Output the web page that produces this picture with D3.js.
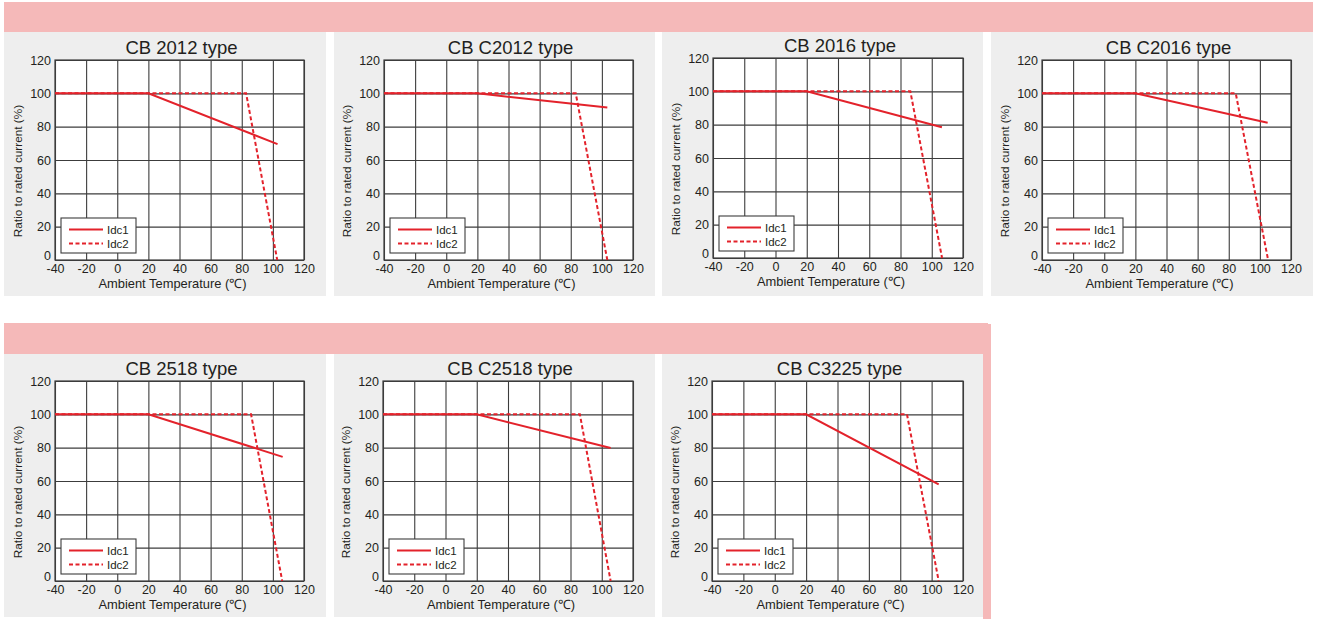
<!DOCTYPE html>
<html>
<head>
<meta charset="utf-8">
<script src="https://cdn.jsdelivr.net/npm/d3@7/dist/d3.min.js"></script>
<style>
  html, body { margin: 0; padding: 0; background: #ffffff; }
  svg { display: block; }
  text { font-family: "Liberation Sans", Arial, Helvetica, sans-serif; }
</style>
</head>
<body>
<svg id="chart" width="1319" height="619"></svg>
<script>
// ---------------- data ----------------
const titles = ["CB 2012 type", "CB C2012 type", "CB 2016 type", "CB C2016 type",
                "CB 2518 type", "CB C2518 type", "CB C3225 type"];
// Idc1 (solid) derating curves: [temperature, ratio %]
const idc1 = [
  [[-40, 100], [20, 100], [103, 69.5]],
  [[-40, 100], [20, 100], [103.5, 91.5]],
  [[-40, 100], [20, 100], [106.5, 78.5]],
  [[-40, 100], [20, 100], [105, 82.3]],
  [[-40, 100], [20, 100], [106.3, 74.5]],
  [[-40, 100], [20, 100], [105.7, 79.8]],
  [[-40, 100], [20, 100], [104.5, 58]]
];
// Idc2 (dashed) derating curves
const idc2 = [
  [[-40, 100], [82.8, 100], [102.8, 0]],
  [[-40, 100], [83.2, 100], [103.5, 0]],
  [[-40, 100], [86.3, 100], [106.6, 0]],
  [[-40, 100], [84.5, 100], [105.3, 0]],
  [[-40, 100], [86, 100], [106, 0]],
  [[-40, 100], [86, 100], [105.7, 0]],
  [[-40, 100], [84.3, 100], [104.5, 0]]
];
const seriesNames = ["Idc1", "Idc2"];
const xTicks = [-40, -20, 0, 20, 40, 60, 80, 100, 120];
const yTicks = [0, 20, 40, 60, 80, 100, 120];
const xLabel = "Ambient Temperature (\u2103)";
const yLabel = "Ratio to rated current (%)";

// ---------------- layout ----------------
const plotRects = [
  {x: 55,   y: 60,  w: 249, h: 200},
  {x: 384,  y: 60,  w: 249, h: 200},
  {x: 713,  y: 58,  w: 250, h: 200},
  {x: 1042, y: 60,  w: 249, h: 200},
  {x: 55,   y: 381, w: 249, h: 200},
  {x: 383,  y: 381, w: 250, h: 200},
  {x: 712,  y: 381, w: 251, h: 200}
];
const panelRects = [
  {x: 4,   y: 32,  w: 322, h: 264},
  {x: 334, y: 32,  w: 321, h: 264},
  {x: 662, y: 32,  w: 321, h: 264},
  {x: 991, y: 32,  w: 322, h: 264},
  {x: 4,   y: 354, w: 322, h: 263},
  {x: 334, y: 354, w: 321, h: 263},
  {x: 662, y: 354, w: 321, h: 263}
];

const RED = "#e3222b";
const GRID = "#3c3c3c";
const TXT = "#231f20";
const PINK = "#f5b9b9";
const GRAY = "#eeeeee";
const FONT = "'Liberation Sans', Arial, sans-serif";

const svg = d3.select("#chart");

// header bands
svg.append("rect").attr("x", 4).attr("y", 2).attr("width", 1309).attr("height", 30).attr("fill", PINK);
svg.append("rect").attr("x", 4).attr("y", 323).attr("width", 984).attr("height", 31).attr("fill", PINK);
svg.append("rect").attr("x", 983).attr("y", 324).attr("width", 8).attr("height", 295).attr("fill", PINK);

titles.forEach((title, i) => {
  const pr = panelRects[i];
  const r = plotRects[i];
  svg.append("rect").attr("x", pr.x).attr("y", pr.y).attr("width", pr.w).attr("height", pr.h).attr("fill", GRAY);

  const x = d3.scaleLinear().domain([-40, 120]).range([r.x, r.x + r.w]);
  const y = d3.scaleLinear().domain([0, 120]).range([r.y + r.h, r.y]);

  const g = svg.append("g");
  g.append("rect").attr("x", r.x).attr("y", r.y).attr("width", r.w).attr("height", r.h).attr("fill", "#ffffff");

  // grid via axes
  const gx = g.append("g").attr("transform", `translate(0,${r.y + r.h})`)
    .call(d3.axisBottom(x).tickValues(xTicks).tickSize(-r.h).tickFormat(""));
  const gy = g.append("g").attr("transform", `translate(${r.x},0)`)
    .call(d3.axisLeft(y).tickValues(yTicks).tickSize(-r.w).tickFormat(""));
  [gx, gy].forEach(a => {
    a.select(".domain").remove();
    a.selectAll("line").attr("stroke", GRID).attr("stroke-width", 1.1);
  });
  g.append("rect").attr("x", r.x).attr("y", r.y).attr("width", r.w).attr("height", r.h)
    .attr("fill", "none").attr("stroke", GRID).attr("stroke-width", 1.2);

  // tick labels (plain hyphen minus like the reference)
  const fmt = d => String(d);
  const lx = g.append("g").attr("transform", `translate(0,${r.y + r.h})`)
    .call(d3.axisBottom(x).tickValues(xTicks).tickSize(0).tickPadding(4).tickFormat(fmt));
  lx.select(".domain").remove();
  lx.selectAll("text").attr("font-size", 12.5).attr("fill", TXT).attr("font-family", FONT);
  const ly = g.append("g").attr("transform", `translate(${r.x},0)`)
    .call(d3.axisLeft(y).tickValues(yTicks).tickSize(0).tickPadding(4).tickFormat(fmt));
  ly.select(".domain").remove();
  ly.selectAll("text").attr("font-size", 12.5).attr("fill", TXT).attr("font-family", FONT)
    .attr("dy", d => d === 0 ? "-0.02em" : "0.32em");

  // title
  g.append("text").attr("x", r.x + r.w / 2 + 2).attr("y", r.y - 6)
    .attr("text-anchor", "middle").attr("font-size", 18.5).attr("fill", TXT).text(title);
  // axis labels
  g.append("text").attr("x", r.x + r.w / 2 - 7).attr("y", r.y + r.h + 28)
    .attr("text-anchor", "middle").attr("font-size", 12.9).attr("fill", TXT).text(xLabel);
  g.append("text")
    .attr("transform", `translate(${r.x - 33.5},${r.y + r.h / 2 + 11}) rotate(-90)`)
    .attr("text-anchor", "middle").attr("font-size", 11.8).attr("fill", TXT).text(yLabel);

  // curves
  const line = d3.line().x(d => x(d[0])).y(d => y(d[1]));
  g.append("path").datum(idc2[i]).attr("d", line).attr("fill", "none")
    .attr("stroke", RED).attr("stroke-width", 2).attr("stroke-dasharray", "4,2.5");
  g.append("path").datum(idc1[i]).attr("d", line).attr("fill", "none")
    .attr("stroke", RED).attr("stroke-width", 2);

  // legend
  const lgX = r.x + 6, lgY = r.y + r.h - 42;
  const lg = g.append("g");
  lg.append("rect").attr("x", lgX).attr("y", lgY).attr("width", 75).attr("height", 35)
    .attr("fill", "#ffffff").attr("stroke", GRID).attr("stroke-width", 1.1);
  seriesNames.forEach((name, k) => {
    const yy = lgY + 11.5 + k * 14;
    lg.append("line").attr("x1", lgX + 8).attr("x2", lgX + 42).attr("y1", yy).attr("y2", yy)
      .attr("stroke", RED).attr("stroke-width", 2)
      .attr("stroke-dasharray", k === 1 ? "4,2.5" : null);
    lg.append("text").attr("x", lgX + 46).attr("y", yy + 4).attr("font-size", 11.5)
      .attr("fill", TXT).text(name);
  });
});
</script>
</body>
</html>
